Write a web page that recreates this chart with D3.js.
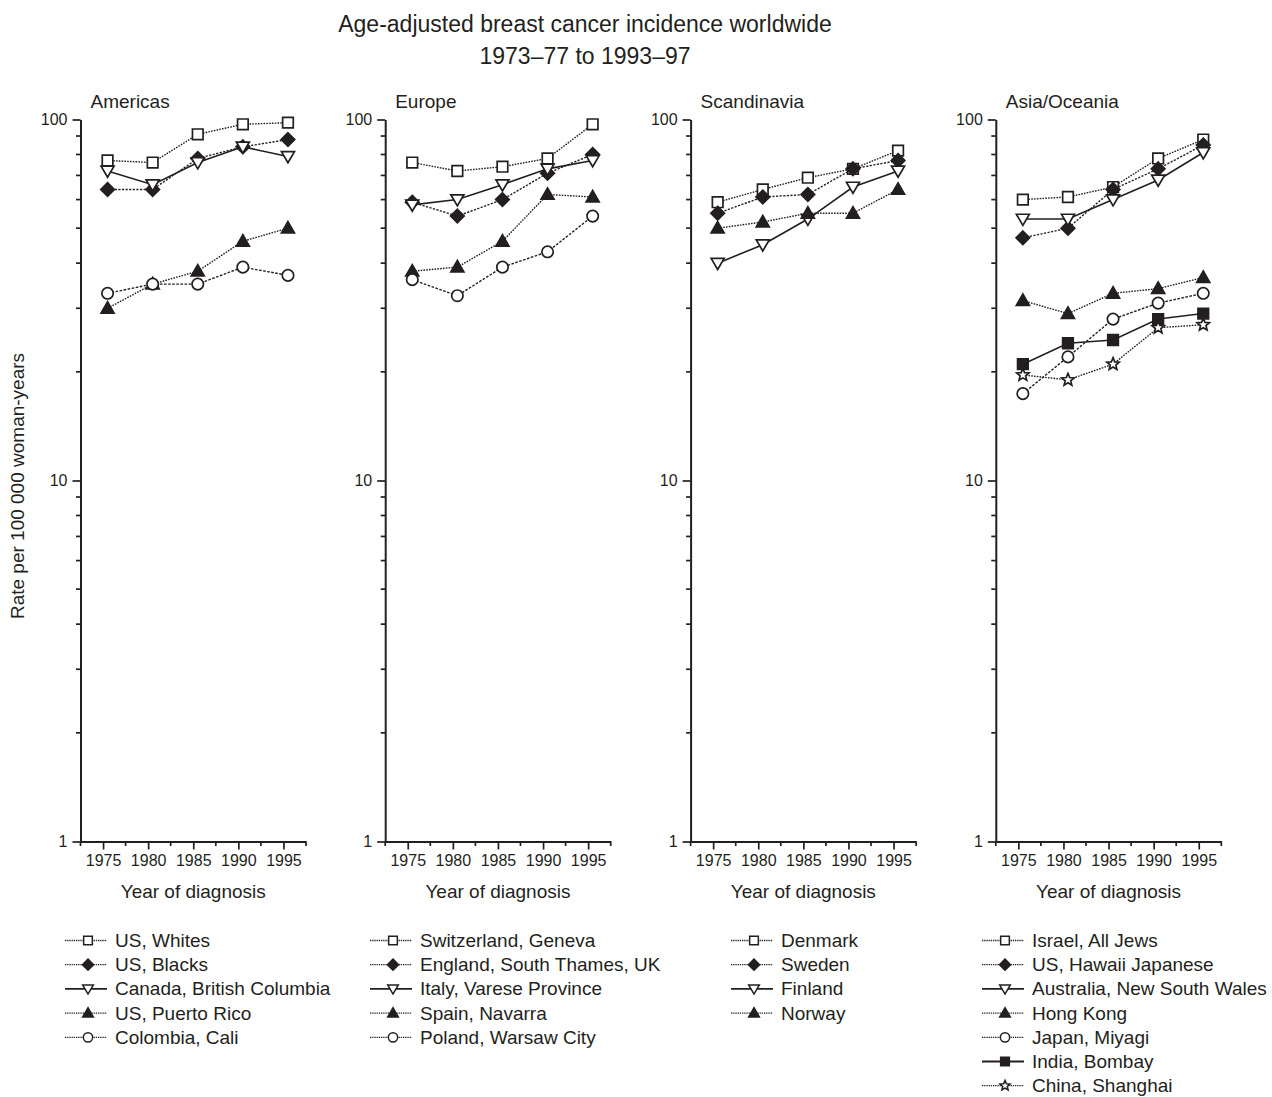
<!DOCTYPE html>
<html><head><meta charset="utf-8">
<script src="https://cdn.jsdelivr.net/npm/d3@7"></script>
<style>
body{margin:0;background:#fff;}
svg{display:block;font-family:"Liberation Sans",Arial,Helvetica,sans-serif;}
</style></head>
<body><svg id="chart" width="1272" height="1097"></svg>
<script>
// ---------- data ----------
const titleLines = ["Age-adjusted breast cancer incidence worldwide", "1973\u201377 to 1993\u201397"];
const yLabel = "Rate per 100 000 woman-years";
const xLabel = "Year of diagnosis";
const years = [1975.5, 1980.5, 1985.5, 1990.5, 1995.5];
const xTickLabels = [1975, 1980, 1985, 1990, 1995];
const yTickLabels = [1, 10, 100];
const panelTitles = ["Americas", "Europe", "Scandinavia", "Asia/Oceania"];

const americasNames = ["US, Whites", "US, Blacks", "Canada, British Columbia", "US, Puerto Rico", "Colombia, Cali"];
const americasValues = [
  [77, 76, 91, 97, 98],
  [64, 64, 78, 84, 88],
  [72, 66, 76, 84, 79],
  [30, 35, 38, 46, 50],
  [33, 35, 35, 39, 37]
];
const europeNames = ["Switzerland, Geneva", "England, South Thames, UK", "Italy, Varese Province", "Spain, Navarra", "Poland, Warsaw City"];
const europeValues = [
  [76, 72, 74, 78, 97],
  [59, 54, 60, 71, 80],
  [58, 60, 66, 73, 77],
  [38, 39, 46, 62, 61],
  [36, 32.5, 39, 43, 54]
];
const scandinaviaNames = ["Denmark", "Sweden", "Finland", "Norway"];
const scandinaviaValues = [
  [59, 64, 69, 73, 82],
  [55, 61, 62, 73, 77],
  [40, 45, 53, 65, 72],
  [50, 52, 55, 55, 64]
];
const asiaNames = ["Israel, All Jews", "US, Hawaii Japanese", "Australia, New South Wales", "Hong Kong", "Japan, Miyagi", "India, Bombay", "China, Shanghai"];
const asiaValues = [
  [60, 61, 65, 78, 88],
  [47, 50, 64, 73, 85],
  [53, 53, 60, 68, 81],
  [31.5, 29, 33, 34, 36.5],
  [17.4, 22, 28, 31, 33],
  [21, 24, 24.5, 28, 29],
  [19.6, 19, 21, 26.5, 27]
];

// ---------- styles (by series order within a panel) ----------
const markerKinds = ["openSquare", "diamond", "downTri", "upTri", "circle", "filledSquare", "star"];
const dashKinds = ["1.6,1.2", "2.2,1.4", null, "1.6,1.2", "2.6,1.5", null, "1.6,1.2"];

const panelNames = [americasNames, europeNames, scandinaviaNames, asiaNames];
const panelValues = [americasValues, europeValues, scandinaviaValues, asiaValues];

const ink = "#231f20";
const svg = d3.select("#chart");

function markerPath(kind, s) {
  switch (kind) {
    case "openSquare": case "filledSquare":
      return `M${-5.3*s},${-5.3*s}h${10.6*s}v${10.6*s}h${-10.6*s}Z`;
    case "diamond":
      return `M0,${-6.8*s}L${6.8*s},0L0,${6.8*s}L${-6.8*s},0Z`;
    case "downTri":
      return `M${-6.5*s},${-4.8*s}L${6.5*s},${-4.8*s}L0,${6.3*s}Z`;
    case "upTri":
      return `M0,${-6.6*s}L${6.5*s},${4.8*s}L${-6.5*s},${4.8*s}Z`;
    case "circle": {
      const r = 5.7*s;
      return `M${r},0A${r},${r},0,1,1,${-r},0A${r},${r},0,1,1,${r},0Z`;
    }
    case "star": {
      const pts = [];
      for (let i = 0; i < 10; i++) {
        const r = (i % 2 === 0 ? 6.5 : 2.9) * s;
        const a = -Math.PI/2 + i*Math.PI/5;
        pts.push([r*Math.cos(a), r*Math.sin(a)]);
      }
      return "M" + pts.map(p => p.join(",")).join("L") + "Z";
    }
  }
}
function markerFill(kind) {
  return (kind === "diamond" || kind === "upTri" || kind === "filledSquare") ? ink : "#fff";
}

// ---------- title ----------
svg.append("text").attr("x", 585).attr("y", 32).attr("text-anchor", "middle")
  .attr("font-size", 23).attr("fill", ink).text(titleLines[0]);
svg.append("text").attr("x", 585).attr("y", 64).attr("text-anchor", "middle")
  .attr("font-size", 23).attr("fill", ink).text(titleLines[1]);

// y label
svg.append("text").attr("transform", "translate(24,486) rotate(-90)")
  .attr("text-anchor", "middle").attr("font-size", 19).attr("fill", ink).text(yLabel);

const axisX0 = [80.5, 385.2, 690.6, 995.8];
const plotW = 225.5;
const yTop = 119.5, yBot = 841.5;
const y = d3.scaleLog().domain([1, 100]).range([yBot, yTop]);
const minorY = [];
[1, 10].forEach(dec => { for (let k = 2; k <= 9; k++) minorY.push(dec*k); });
const legendX = [65, 370, 731, 982];
const legendY0 = 940.5, legendDY = 24.2;

panelTitles.forEach((pt, pi) => {
  const x0 = axisX0[pi];
  const x = d3.scaleLinear().domain([1972.5, 1997.5]).range([x0, x0 + plotW]);
  const g = svg.append("g");

  // x axis
  const xAxis = d3.axisBottom(x).tickValues(xTickLabels).tickFormat(d3.format("d"))
    .tickSize(8).tickSizeOuter(0).tickPadding(5);
  const gx = g.append("g").attr("transform", `translate(0,${yBot})`).call(xAxis);
  const minorX = d3.range(1972.5, 1997.6, 2.5).filter(v => xTickLabels.indexOf(v) < 0);
  gx.selectAll(".minor").data(minorX).enter().append("line").attr("class", "minor")
    .attr("x1", d => x(d)).attr("x2", d => x(d)).attr("y1", 0).attr("y2", 4.5);

  // y axis
  const yAxis = d3.axisLeft(y).tickValues(yTickLabels).tickFormat(d3.format("d"))
    .tickSize(8).tickSizeOuter(0).tickPadding(5);
  const gy = g.append("g").attr("transform", `translate(${x0},0)`).call(yAxis);
  gy.selectAll(".minor").data(minorY).enter().append("line").attr("class", "minor")
    .attr("x1", -4.5).attr("x2", 0).attr("y1", d => y(d)).attr("y2", d => y(d));

  [gx, gy].forEach(ax => {
    ax.attr("font-size", 16).attr("font-family", '"Liberation Sans",Arial,Helvetica,sans-serif');
    ax.selectAll("line").attr("stroke", ink).attr("stroke-width", 1.7);
    ax.selectAll("path.domain").attr("stroke", ink).attr("stroke-width", 2);
    ax.selectAll("text").attr("font-size", 16).attr("fill", ink);
  });

  // panel title
  g.append("text").attr("x", x0 + 10).attr("y", 108).attr("font-size", 19)
    .attr("fill", ink).text(pt);
  // x label
  g.append("text").attr("x", x0 + plotW/2).attr("y", 898).attr("text-anchor", "middle")
    .attr("font-size", 19).attr("fill", ink).text(xLabel);

  const names = panelNames[pi], vals = panelValues[pi];
  const line = d3.line().x((d, i) => x(years[i])).y(d => y(d));
  vals.forEach((vs, si) => {
    g.append("path").attr("d", line(vs)).attr("fill", "none").attr("stroke", ink)
      .attr("stroke-width", dashKinds[si] ? 1.4 : 1.6)
      .attr("stroke-dasharray", dashKinds[si]);
  });
  vals.forEach((vs, si) => {
    const kind = markerKinds[si];
    g.selectAll(null).data(vs).enter().append("path")
      .attr("transform", (d, i) => `translate(${x(years[i])},${y(d)})`)
      .attr("d", markerPath(kind, 1)).attr("fill", markerFill(kind))
      .attr("stroke", ink).attr("stroke-width", 1.7).attr("stroke-linejoin", "miter");
  });

  // legend
  const lx = legendX[pi];
  names.forEach((nm, si) => {
    const ly = legendY0 + si*legendDY;
    const kind = markerKinds[si];
    g.append("line").attr("x1", lx).attr("x2", lx + 42).attr("y1", ly).attr("y2", ly)
      .attr("stroke", ink).attr("stroke-width", dashKinds[si] ? 1.3 : 1.8)
      .attr("stroke-dasharray", dashKinds[si] ? "1.3,0.9" : null);
    g.append("path").attr("transform", `translate(${lx + 23},${ly})`)
      .attr("d", markerPath(kind, 0.82)).attr("fill", markerFill(kind))
      .attr("stroke", ink).attr("stroke-width", 1.5);
    g.append("text").attr("x", lx + 50).attr("y", ly + 6.4).attr("font-size", 19)
      .attr("fill", ink).text(nm);
  });
});
</script></body></html>
